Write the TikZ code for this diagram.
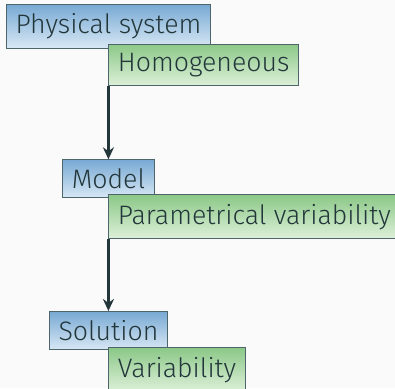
\documentclass[tikz,border=0pt]{standalone}
\usepackage{fontspec}
\setmainfont{Fira Sans Light}
\usepackage{xcolor}
\usepackage{tikz}
\usetikzlibrary{positioning,arrows.meta}
\definecolor{pagebg}{HTML}{FAFAFA}
\definecolor{ink}{HTML}{23373B}
\definecolor{edge}{HTML}{4E656B}
\definecolor{blueTop}{HTML}{78A9D3}
\definecolor{blueBot}{HTML}{D8E8F5}
\definecolor{greenTop}{HTML}{8CC888}
\definecolor{greenBot}{HTML}{DDF0D9}
\tikzstyle{stage}=[rectangle, draw=edge, line width=1pt, top color=blueTop, bottom color=blueBot,
        text=ink, inner xsep=9pt, inner ysep=9pt]
\tikzstyle{detail}=[rectangle, draw=edge, line width=1pt, top color=greenTop, bottom color=greenBot,
        text=ink, inner xsep=9pt, inner ysep=9pt, anchor=north west]
\tikzstyle{flow}=[draw=ink, line width=2.4pt, -{Stealth[length=12pt,width=11pt]}]

\begin{document}
\begin{tikzpicture}[font=\fontsize{26.7}{30}\selectfont]
        % page
        \fill[pagebg] (-6pt,4pt) rectangle ++(395pt,-388pt);
        \useasboundingbox (-6pt,4pt) rectangle ++(395pt,-388pt);

        \node (phys) [stage, anchor=north west] at (0,0) {Physical system};
        \node (homog) [detail] at ([yshift=5pt]phys.south) {Homogeneous};

        \node (model) [stage, below=73pt of homog.south west] {Model};
        \node (param) [detail] at ([yshift=4pt]model.south) {Parametrical variability};

        \node (sol) [stage, below=72pt of param.south west] {Solution};
        \node (var) [detail] at ([yshift=3pt]sol.south) {Variability};

        \draw[flow] (homog.south west) -- (model.north);
        \draw[flow] (param.south west) -- (sol.north);
\end{tikzpicture}
\end{document}
